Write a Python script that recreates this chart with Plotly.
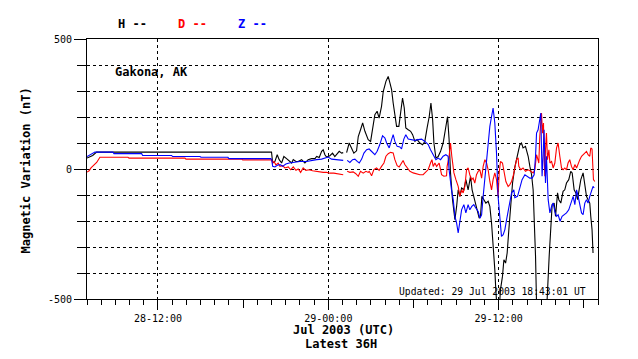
import plotly.graph_objects as go
import pandas as pd

BASE = pd.Timestamp("2003-07-28 07:00")
RANGE_HOURS = 36

# ---- data: hours since 2003-07-28 07:00 UTC, values in nT ----
h_hours = [0.00, 0.40, 0.68, 13.00, 13.08, 13.24, 13.40, 13.54, 13.71, 13.87, 14.06, 14.25, 14.42, 14.53,
           14.72, 14.88, 15.12, 15.35, 15.58, 15.82, 16.06, 16.18, 16.36, 16.53, 16.64, 16.76, 16.88, 17.11,
           17.30, 17.46, 17.63, 17.77, 17.94, 18.05, 18.17, 18.29, 18.47, 18.64, 18.80, 18.99, 19.11, 19.27,
           19.42, 19.58, 19.81, 19.98, 20.12, 20.28, 20.44, 20.58, 20.75, 20.87, 21.06, 21.22, 21.34, 21.46,
           21.57, 21.69, 21.81, 21.97, 22.09, 22.23, 22.35, 22.46, 22.63, 22.80, 22.94, 23.10, 23.26, 23.45,
           23.64, 23.80, 23.96, 24.11, 24.23, 24.35, 24.44, 24.58, 24.74, 24.91, 25.09, 25.28, 25.40, 25.51,
           25.61, 25.75, 25.85, 25.92, 26.04, 26.15, 26.27, 26.39, 26.55, 26.69, 26.85, 27.02, 27.13, 27.32,
           27.49, 27.63, 27.72, 27.82, 27.96, 28.10, 28.26, 28.38, 28.50, 28.61, 28.73, 28.80, 28.89, 29.04,
           29.13, 29.27, 29.37, 29.49, 29.60, 29.72, 29.84, 29.98, 30.14, 30.33, 30.49, 30.61, 30.72, 30.89,
           31.08, 31.20, 31.32, 31.43, 31.50, 31.60, 31.67, 32.40, 32.56, 32.68, 32.77, 32.91, 33.01, 33.15,
           33.24, 33.38, 33.54, 33.66, 33.78, 33.94, 34.08, 34.18, 34.32, 34.44, 34.56, 34.67, 34.79, 34.95,
           35.07, 35.19, 35.30, 35.42, 35.49, 35.58, 35.65]
h_values = [42, 52, 65, 65, 23, 29, 55, 36, 23, 48, 40, 29, 23, 36,
            29, 29, 36, 23, 36, 40, 40, 48, 44, 68, 74, 55, 46, 51,
            61, 48, 59, 68, 61, 63, None, 63, 100, 80, 61, 70, 125, 151,
            177, 145, 113, 106, 158, 209, 222, 196, 241, 298, 337, 356, 331, 305,
            254, 209, 164, 164, 215, 273, 235, 158, 151, 145, 132, 106, 113, 100,
            93, 106, 158, 202, 254, 190, 100, 42, 48, 68, 100, 164, 202, 113,
            -15, -118, -182, -195, -144, -80, -105, -73, -80, -41, -80, -28, -80, -118,
            -157, -189, -182, -105, -118, -131, -124, -144, -208, -285, -387, -464, -540, -540,
            -464, -413, -349, -362, -323, -233, -131, -54, 7, 49, 93, 100, 81, 87,
            49, 10, -22, -80, -182, -336, -520, -520, -336, -208, -137, -131, -182, -92,
            -118, -131, -86, -80, -54, -41, -9, -15, -80, -92, -118, -80, -41, -15,
            -54, -105, -118, -131, -182, -233, -323]

d_hours = [0.00, 0.15, 0.28, 0.68, 0.91, 2.89, 2.96, 6.90, 6.97, 10.90, 10.97, 12.89, 13.01, 13.08,
           13.17, 13.31, 13.47, 13.59, 13.78, 13.94, 14.18, 14.35, 14.53, 14.72, 14.88, 15.05, 15.23, 15.42,
           15.65, 15.89, 16.13, 16.36, 16.64, 16.88, 17.11, 17.39, 17.63, 17.94, 18.05, 18.17, 18.33, 18.52,
           18.75, 18.94, 19.11, 19.27, 19.46, 19.65, 19.81, 19.88, 20.05, 20.21, 20.40, 20.58, 20.75, 20.92,
           21.06, 21.22, 21.39, 21.57, 21.69, 21.85, 21.99, 22.16, 22.27, 22.39, 22.56, 22.75, 22.98, 23.22,
           23.45, 23.68, 23.87, 24.04, 24.20, 24.30, 24.39, 24.51, 24.63, 24.81, 24.98, 25.14, 25.33, 25.37,
           25.51, 25.61, 25.70, 25.85, 25.99, 26.15, 26.27, 26.39, 26.50, 26.62, 26.74, 26.85, 26.97, 27.09,
           27.20, 27.32, 27.44, 27.56, 27.68, 27.80, 27.91, 28.03, 28.15, 28.26, 28.38, 28.50, 28.61, 28.73,
           28.85, 28.96, 29.04, 29.13, 29.27, 29.39, 29.51, 29.67, 29.79, 29.91, 30.02, 30.14, 30.26, 30.37,
           30.42, 30.56, 30.72, 30.89, 31.08, 31.27, 31.43, 31.55, 31.67, 31.74, 31.83, 31.90, 32.02, 32.09,
           32.16, 32.20, 32.25, 32.30, 32.37, 32.44, 32.54, 32.61, 32.73, 32.84, 32.96, 33.08, 33.19, 33.31,
           33.43, 33.54, 33.66, 33.78, 33.89, 34.01, 34.13, 34.25, 34.37, 34.49, 34.60, 34.72, 34.84, 34.95,
           35.07, 35.19, 35.30, 35.42, 35.49, 35.58, 35.68, 35.77]
d_values = [-12, -7, 4, 25, 45, 45, 42, 42, 38, 38, 35, 35, 35, 23,
            29, 16, 23, 10, 13, 4, 8, -3, 8, -5, 0, -13, 4, -5,
            -3, -7, -9, -12, -13, -13, -16, -16, -18, -22, -22, None, -9, -13,
            -11, -18, -28, -9, -16, -9, -13, -9, -26, -2, 4, -5, 10, 23,
            49, 59, 64, 62, 36, 13, 8, 23, 33, 17, 4, -9, -15, -19,
            -22, -22, -9, -2, 23, 36, 10, 23, 10, 23, -22, -28, -26, 10,
            49, 100, 49, -15, -41, -67, -105, -80, -92, -67, -3, 4, -22, -41,
            -35, -54, -22, -9, -3, -35, 10, 36, 23, -3, -48, -80, -41, -15,
            -41, -105, -15, 29, 23, -15, -48, -67, -60, -48, -28, 4, 36, 43,
            10, -3, 4, -9, -3, -9, -15, -3, 55, 42, 23, 126, 215, 138,
            177, 49, -28, 74, 138, 36, 74, 23, 29, 4, 23, 81, 100, 49,
            4, -3, 4, -3, 23, 36, 10, -3, 17, 4, 23, 36, 49, 55,
            61, 68, 55, 49, 81, 77, -41, -48]

z_hours = [0.00, 0.35, 0.56, 1.83, 1.90, 3.85, 3.92, 5.96, 6.03, 7.96, 8.03, 9.93, 10.00, 12.95,
           13.01, 13.08, 13.24, 13.47, 13.64, 13.78, 14.01, 14.25, 14.53, 15.00, 15.47, 15.82, 16.18, 16.53,
           16.76, 16.99, 17.23, 17.46, 17.82, 18.05, 18.17, 18.33, 18.52, 18.71, 18.87, 19.04, 19.18, 19.35,
           19.51, 19.70, 19.88, 19.93, 20.12, 20.28, 20.44, 20.63, 20.82, 20.99, 21.11, 21.29, 21.46, 21.57,
           21.69, 21.85, 22.04, 22.16, 22.32, 22.46, 22.63, 22.87, 23.10, 23.33, 23.57, 23.80, 24.04, 24.20,
           24.39, 24.58, 24.74, 24.91, 25.09, 25.28, 25.44, 25.51, 25.68, 25.80, 25.92, 26.04, 26.15, 26.27,
           26.39, 26.55, 26.69, 26.85, 26.97, 27.11, 27.25, 27.39, 27.56, 27.68, 27.80, 27.91, 28.03, 28.15,
           28.26, 28.38, 28.50, 28.61, 28.73, 28.85, 28.96, 29.08, 29.20, 29.32, 29.44, 29.56, 29.67, 29.79,
           29.91, 30.07, 30.14, 30.33, 30.49, 30.65, 30.85, 31.04, 31.20, 31.36, 31.50, 31.60, 31.67, 31.78,
           31.90, 31.97, 32.02, 32.06, 32.13, 32.20, 32.30, 32.37, 32.49, 32.61, 32.73, 32.84, 32.96, 33.08,
           33.19, 33.33, 33.47, 33.61, 33.78, 33.94, 34.08, 34.25, 34.37, 34.49, 34.60, 34.72, 34.84, 34.95,
           35.07, 35.19, 35.30, 35.42, 35.54, 35.65, 35.73]
z_values = [48, 58, 65, 65, 59, 59, 52, 52, 48, 48, 45, 45, 40, 40,
            36, 10, 8, 16, 16, 10, 19, 23, 25, 29, 29, 33, 36, 38,
            42, 46, 38, 36, 33, 33, None, 33, 25, 36, 38, 29, 23, 38,
            61, 74, 77, 74, 62, 55, 68, 94, 128, 119, 100, 81, 113, 132,
            106, 87, 85, 77, 115, 132, 115, 113, 110, 113, 115, 106, 94, 74,
            55, 36, 42, 36, 49, 55, 49, -3, -80, -118, -182, -208, -246, -208,
            -157, -137, -169, -137, -157, -144, -137, -150, -163, -189, -176, -105, -41, 49,
            100, 164, 202, 234, 177, 61, -105, -182, -259, -253, -233, -195, -157, -118,
            -92, -80, -110, -105, -73, -41, -22, -28, -35, -35, -22, 49, 138, 151,
            190, 215, 74, -28, 49, 151, -54, 49, -118, -169, -144, -131, -163, -182,
            -176, -201, -182, -176, -169, -157, -131, -105, -137, -80, -105, -137, -169, -176,
            -131, -118, -131, -105, -80, -67, -73]

major_ticks = ["2003-07-28 12:00", "2003-07-29 00:00", "2003-07-29 12:00"]
major_labels = ["28-12:00", "29-00:00", "29-12:00"]
six_hour_ticks = ["2003-07-28 18:00", "2003-07-29 06:00", "2003-07-29 18:00"]
y_tickvals = [-500, 0, 500]
y_ticktext = ["-500", "0", "500"]

series = [("H", h_hours, h_values, "#000000"),
          ("D", d_hours, d_values, "#ff0000"),
          ("Z", z_hours, z_values, "#0000ff")]

MONO = "DejaVu Sans Mono"
OFF = 8  # default page body margin


def to_time(hours):
    return [BASE + pd.Timedelta(hours=h) for h in hours]


fig = go.Figure()
for name, hrs, vals, col in series:
    fig.add_trace(go.Scatter(x=to_time(hrs), y=vals, mode="lines", name=name,
                             line=dict(color=col, width=1.1), connectgaps=False,
                             showlegend=False))

# dummy trace for the 6-hour tick axis
fig.add_trace(go.Scatter(x=[], y=[], xaxis="x2", showlegend=False, hoverinfo="skip"))

x_range = [BASE, BASE + pd.Timedelta(hours=RANGE_HOURS)]

fig.update_layout(
    width=638 - OFF, height=359 - OFF,
    margin=dict(l=87 - OFF, r=40, t=39 - OFF, b=60, autoexpand=False),
    paper_bgcolor="white", plot_bgcolor="white",
    font=dict(family=MONO, color="black", size=10),
    showlegend=False,
    xaxis=dict(type="date", range=x_range, showline=True, linecolor="black", linewidth=1,
               mirror=True, ticks="outside", ticklen=10, tickcolor="black", tickwidth=1,
               tickvals=major_ticks, ticktext=major_labels,
               tickfont=dict(family=MONO, size=10),
               showgrid=True, gridcolor="black", griddash="dot", gridwidth=1, zeroline=False,
               minor=dict(dtick=3600000, tick0="2003-07-28 07:00", ticks="outside", ticklen=5,
                          tickcolor="black", showgrid=False)),
    xaxis2=dict(type="date", range=x_range, overlaying="x", anchor="y", side="bottom",
                ticks="outside", ticklen=8, tickcolor="black", tickvals=six_hour_ticks,
                showticklabels=False, showgrid=False, showline=False, zeroline=False),
    yaxis=dict(range=[-500, 500], showline=True, linecolor="black", linewidth=1, mirror=True,
               ticks="outside", ticklen=12, tickcolor="black", tickvals=y_tickvals,
               ticktext=y_ticktext, tickfont=dict(family=MONO, size=10),
               showgrid=True, gridcolor="black", griddash="dot", gridwidth=1, zeroline=False,
               minor=dict(dtick=100, ticks="outside", ticklen=9, tickcolor="black",
                          showgrid=True, gridcolor="black", griddash="dot", gridwidth=1)),
)

W = 511.0
H = 260.0


def px_x(px):
    return (px - 87) / W


def px_y(py):
    return (299 - py) / H


bold = dict(family=MONO, size=12)
ann = []
for (name, _, _, col), cx in zip(series, [132, 192, 252]):
    ann.append(dict(text=f"<b>{name} --</b>", x=px_x(cx), y=px_y(24), xref="paper", yref="paper",
                    showarrow=False, font=dict(family=MONO, size=12, color=col),
                    xanchor="center", yanchor="middle"))
ann.append(dict(text="<b>Gakona, AK</b>", x=px_x(113), y=px_y(72), xref="paper", yref="paper",
                showarrow=False, font=bold, xanchor="left", yanchor="middle"))
ann.append(dict(text="Updated: 29 Jul 2003 18:43:01 UT", x=px_x(588), y=px_y(291), xref="paper",
                yref="paper", showarrow=False, font=dict(family=MONO, size=9.7),
                xanchor="right", yanchor="middle"))
ann.append(dict(text="<b>Jul 2003 (UTC)</b>", x=px_x(343), y=px_y(329.5), xref="paper", yref="paper",
                showarrow=False, font=bold, xanchor="center", yanchor="middle"))
ann.append(dict(text="<b>Latest 36H</b>", x=px_x(341), y=px_y(344), xref="paper", yref="paper",
                showarrow=False, font=bold, xanchor="center", yanchor="middle"))
ann.append(dict(text="<b>Magnetic Variation (nT)</b>", x=px_x(25.5), y=px_y(171), xref="paper",
                yref="paper", showarrow=False, font=bold, textangle=-90,
                xanchor="center", yanchor="middle"))
fig.update_layout(annotations=ann)

fig.write_html("out.html")
